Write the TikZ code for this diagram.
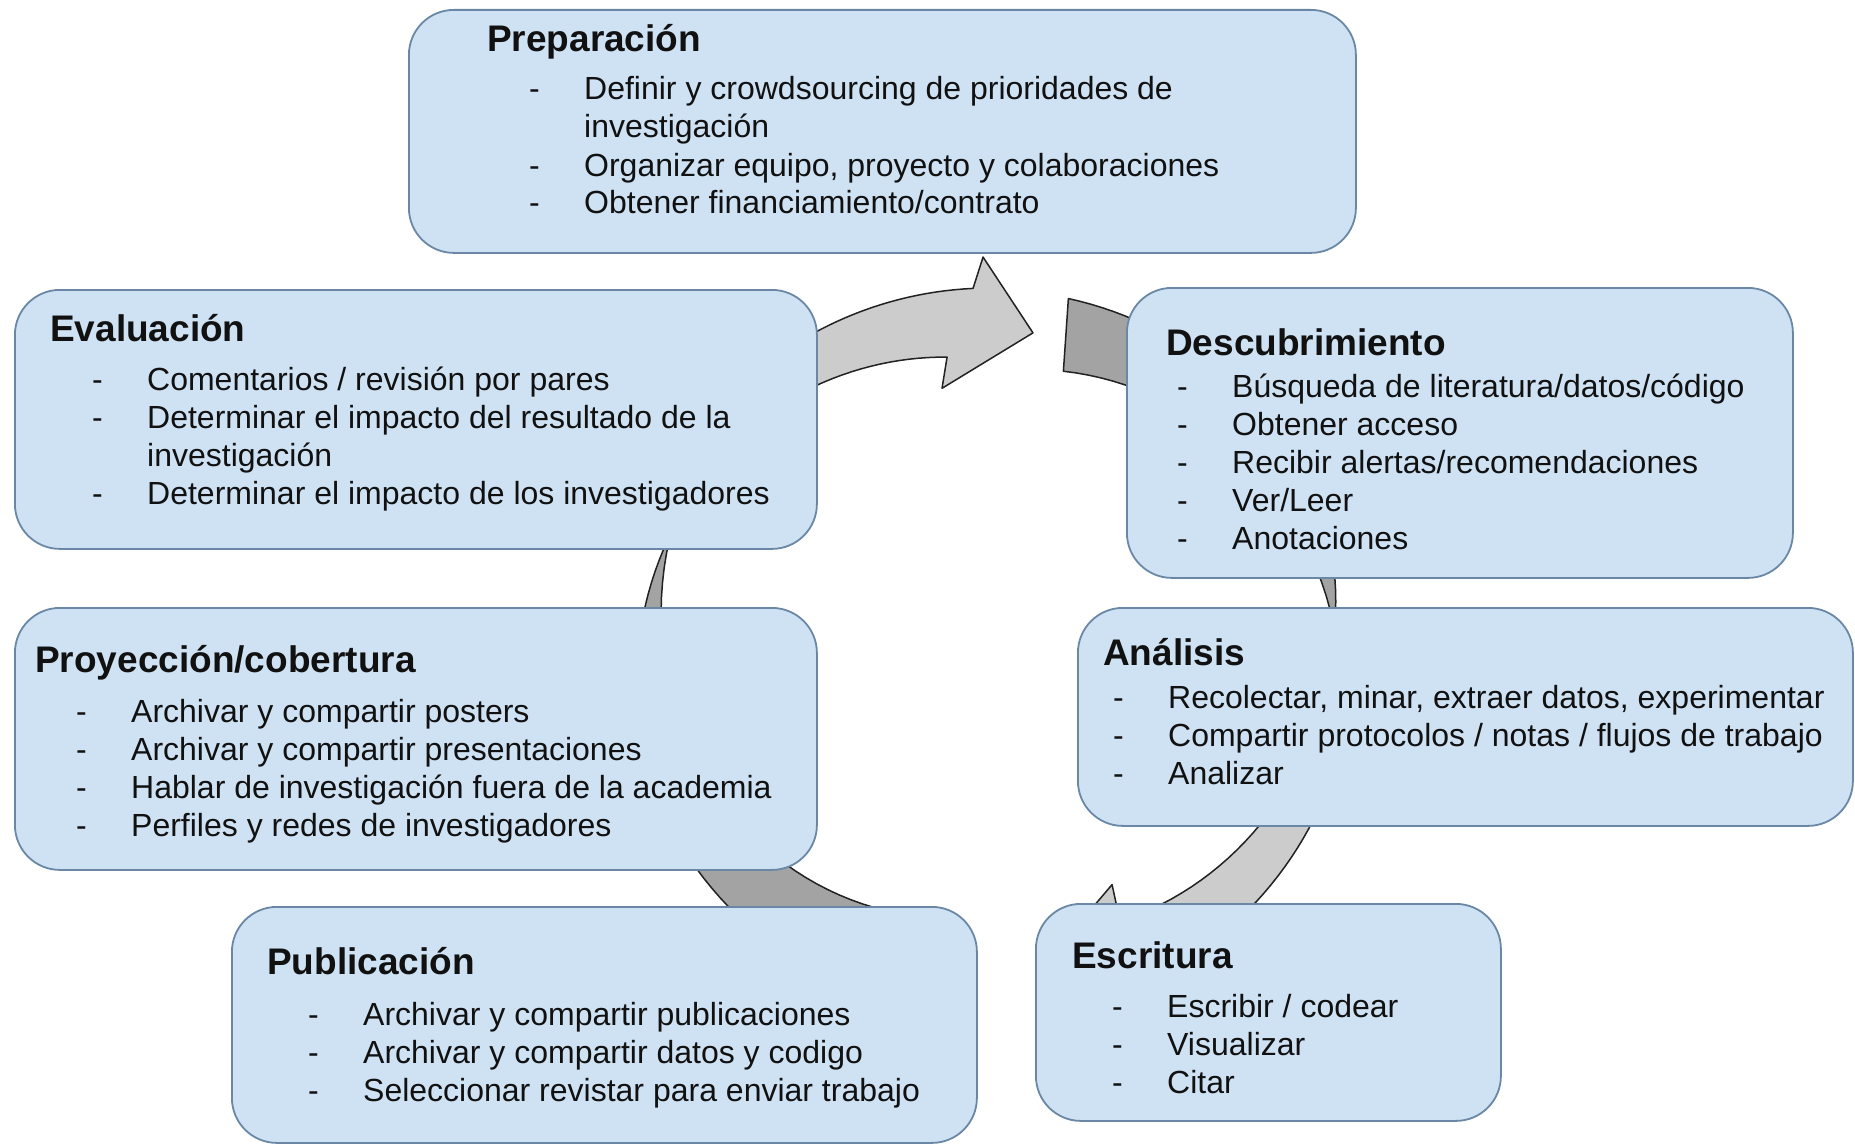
\documentclass[tikz,border=0pt]{standalone}
\usepackage{fontspec}
\setmainfont{Liberation Sans}
\definecolor{boxfill}{HTML}{CFE2F3}
\definecolor{boxline}{HTML}{6A88A6}
\definecolor{lightarr}{HTML}{CCCCCC}
\definecolor{darkarr}{HTML}{A3A3A3}
\definecolor{arrline}{HTML}{222222}
\definecolor{txtcol}{HTML}{111111}
\tikzset{
 stagebox/.style={draw=boxline, fill=boxfill, line width=1.8pt, rounded corners=45pt, anchor=north west, inner sep=0pt},
 ttl/.style={font=\fontsize{37}{44}\selectfont\bfseries, text=txtcol, anchor=base west, inner sep=0pt},
 bodytxt/.style={font=\fontsize{32}{38}\selectfont, text=txtcol, anchor=base west, inner sep=0pt},
 lightpiece/.style={fill=lightarr, draw=arrline, line width=1.5pt, line join=round},
 darkpiece/.style={fill=darkarr, draw=arrline, line width=1.5pt, line join=round},
}
\newcommand{\stageitem}[4]{\node[bodytxt] (#1) at (#2,#3) {\makebox[55pt][l]{-}#4};}
\newcommand{\stagecont}[4]{\node[bodytxt] (#1) at (#2+55,#3) {#4};}
\begin{document}
\begin{tikzpicture}[x=1pt,y=-1pt]
\fill[white] (0,0) rectangle (1855,1145);
\useasboundingbox (0,0) rectangle (1855,1145);

% ---- cycle arrows (background) ----
\begin{scope}[shift={(990,655)}, yscale=-1]
 % light arrow A (top)
 \path[lightpiece] (150:345)
   -- plot[domain=150:92.65, samples=40] (\x:{367-22*(max(\x-125,0)/25)^2})
   -- (91:398) -- (82.4:325) -- (100.2:271) -- (98.2:301)
   -- plot[domain=98.2:150, samples=30] (\x:{301+0.8*(\x-98.2)})
   -- cycle;
 % dark wedge B (right)
 \path[darkpiece] (77.6:365)
   -- plot[domain=77.6:5, samples=40] (\x:{365-19*(max(40-\x,0)/35)^2})
   -- plot[domain=5:75.5, samples=30] (\x:{345-0.736*(\x-5)})
   -- cycle;
 % light arrow C (bottom right)
 \path[lightpiece] (-2:343)
   -- plot[domain=-2:-71.2, samples=40] (\x:{363-20*(max(\x+15,0)/13)^2})
   -- (-72.8:398) -- (-81.4:320.6) -- (-62:260) -- (-64:296.6)
   -- plot[domain=-64:-2, samples=30] (\x:{340-0.7*(-\x-2)})
   -- cycle;
 % dark wedge D (left)
 \path[darkpiece] (258:363)
   -- plot[domain=258:160, samples=50] (\x:{363-21*(max(210-\x,0)/50)^1.3})
   -- plot[domain=160:258, samples=40] (\x:{341-0.74*(\x-160)})
   -- cycle;
\end{scope}

% ---- boxes ----
\node[stagebox, minimum width=947pt, minimum height=243pt] (prep) at (408,9) {};
\node[stagebox, minimum width=802pt, minimum height=259pt] (eval) at (14,289) {};
\node[stagebox, minimum width=666pt, minimum height=290pt] (desc) at (1126,287) {};
\node[stagebox, minimum width=802pt, minimum height=262pt] (proy) at (14,607) {};
\node[stagebox, minimum width=775pt, minimum height=218pt] (anal) at (1077,607) {};
\node[stagebox, minimum width=465pt, minimum height=217pt] (escr) at (1035,903) {};
\node[stagebox, minimum width=745pt, minimum height=236pt] (publ) at (231,906) {};

% ---- Preparación ----
\node[ttl] (prepT) at (487,52) {Preparación};
\stageitem{prep1}{529}{100}{Definir y crowdsourcing de prioridades de}
\stagecont{prep1b}{529}{138}{investigación}
\stageitem{prep2}{529}{176}{Organizar equipo, proyecto y colaboraciones}
\stageitem{prep3}{529}{213}{Obtener financiamiento/contrato}

% ---- Evaluación ----
\node[ttl] (evalT) at (50,341) {Evaluación};
\stageitem{eval1}{92}{390}{Comentarios / revisión por pares}
\stageitem{eval2}{92}{428}{Determinar el impacto del resultado de la}
\stagecont{eval2b}{92}{466}{investigación}
\stageitem{eval3}{92}{504}{Determinar el impacto de los investigadores}

% ---- Descubrimiento ----
\node[ttl] (descT) at (1166,355) {Descubrimiento};
\stageitem{desc1}{1177}{397}{Búsqueda de literatura/datos/código}
\stageitem{desc2}{1177}{435}{Obtener acceso}
\stageitem{desc3}{1177}{473}{Recibir alertas/recomendaciones}
\stageitem{desc4}{1177}{511}{Ver/Leer}
\stageitem{desc5}{1177}{549}{Anotaciones}

% ---- Proyección/cobertura ----
\node[ttl] (proyT) at (35,672) {Proyección/cobertura};
\stageitem{proy1}{76}{722}{Archivar y compartir posters}
\stageitem{proy2}{76}{760}{Archivar y compartir presentaciones}
\stageitem{proy3}{76}{798}{Hablar de investigación fuera de la academia}
\stageitem{proy4}{76}{836}{Perfiles y redes de investigadores}

% ---- Análisis ----
\node[ttl] (analT) at (1103,665) {Análisis};
\stageitem{anal1}{1113}{708}{Recolectar, minar, extraer datos, experimentar}
\stageitem{anal2}{1113}{746}{Compartir protocolos / notas / flujos de trabajo}
\stageitem{anal3}{1113}{784}{Analizar}

% ---- Escritura ----
\node[ttl] (escrT) at (1072,968) {Escritura};
\stageitem{escr1}{1112}{1017}{Escribir / codear}
\stageitem{escr2}{1112}{1055}{Visualizar}
\stageitem{escr3}{1112}{1093}{Citar}

% ---- Publicación ----
\node[ttl] (publT) at (267,974) {Publicación};
\stageitem{publ1}{308}{1025}{Archivar y compartir publicaciones}
\stageitem{publ2}{308}{1063}{Archivar y compartir datos y codigo}
\stageitem{publ3}{308}{1101}{Seleccionar revistar para enviar trabajo}
\end{tikzpicture}
\end{document}
